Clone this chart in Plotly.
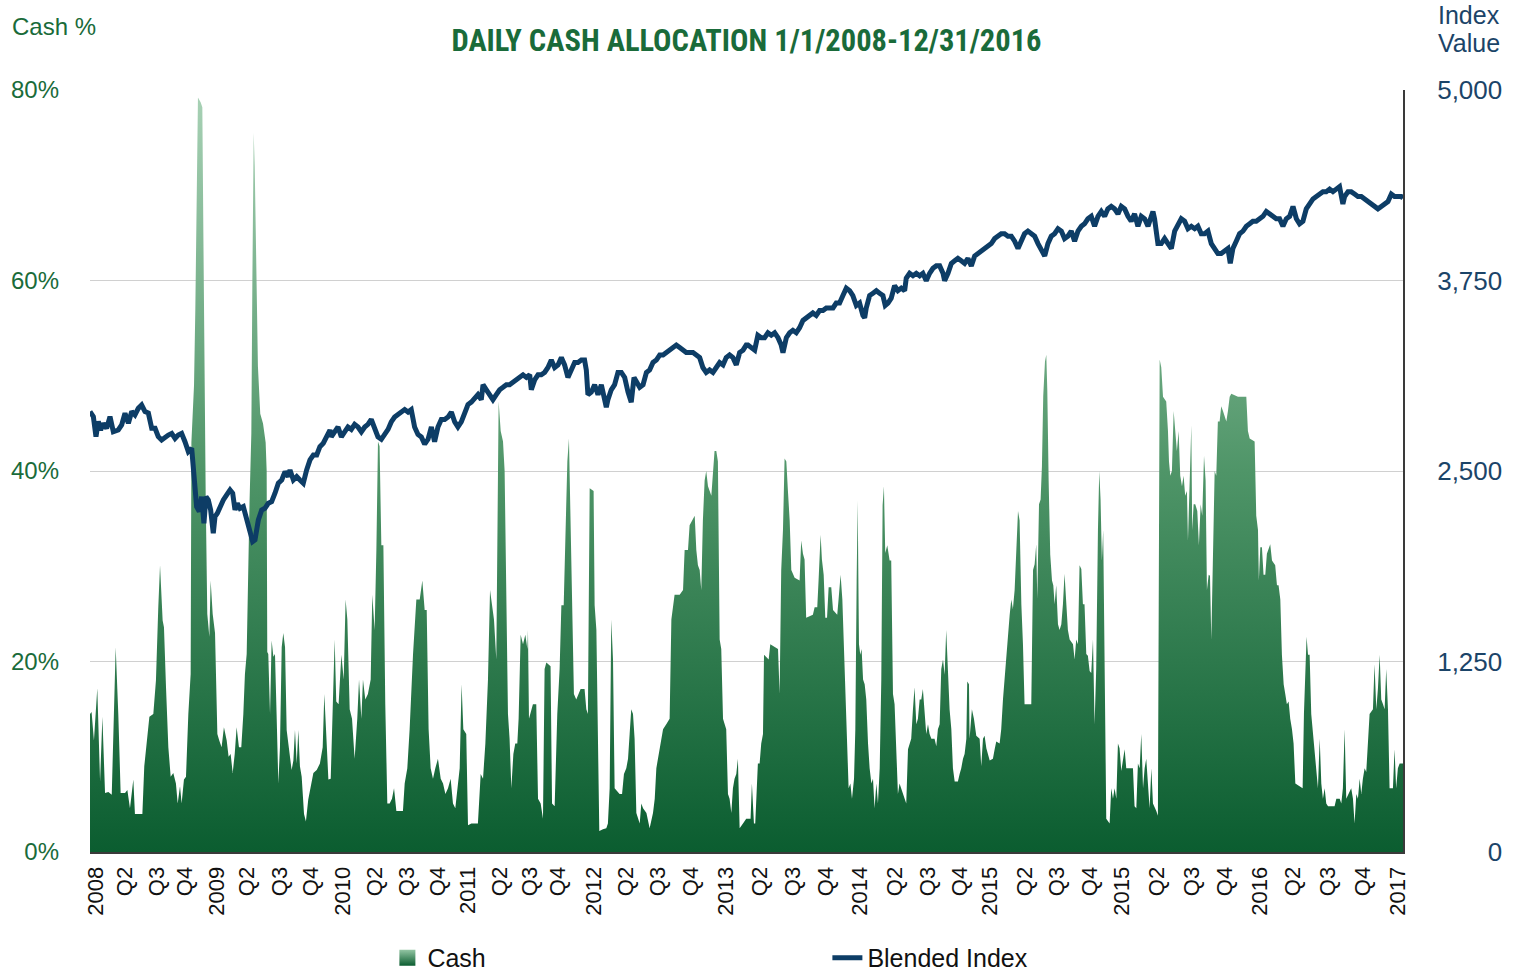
import plotly.graph_objects as go

# ---- Cash allocation (% of portfolio), x = decimal year ----
cash_t = [2008.000, 2008.011, 2008.027, 2008.050, 2008.069, 2008.085, 2008.103, 2008.126, 2008.149, 2008.164,
          2008.176, 2008.194, 2008.210, 2008.240, 2008.256, 2008.274, 2008.297, 2008.308, 2008.343, 2008.359,
          2008.372, 2008.388, 2008.407, 2008.434, 2008.452, 2008.468, 2008.480, 2008.498, 2008.507, 2008.521,
          2008.537, 2008.553, 2008.571, 2008.589, 2008.601, 2008.617, 2008.628, 2008.644, 2008.658, 2008.674,
          2008.690, 2008.695, 2008.713, 2008.722, 2008.731, 2008.740, 2008.759, 2008.770, 2008.777, 2008.786,
          2008.793, 2008.804, 2008.818, 2008.827, 2008.841, 2008.857, 2008.873, 2008.886, 2008.902, 2008.918,
          2008.937, 2008.950, 2008.964, 2008.978, 2008.992, 2009.005, 2009.021, 2009.037, 2009.051, 2009.062,
          2009.074, 2009.094, 2009.106, 2009.113, 2009.122, 2009.129, 2009.140, 2009.151, 2009.167, 2009.186,
          2009.204, 2009.211, 2009.215, 2009.222, 2009.234, 2009.245, 2009.257, 2009.268, 2009.279, 2009.291,
          2009.302, 2009.314, 2009.325, 2009.337, 2009.348, 2009.366, 2009.382, 2009.394, 2009.405, 2009.417,
          2009.428, 2009.439, 2009.451, 2009.467, 2009.480, 2009.496, 2009.519, 2009.531, 2009.554, 2009.576,
          2009.595, 2009.606, 2009.618, 2009.634, 2009.650, 2009.666, 2009.677, 2009.688, 2009.704, 2009.723,
          2009.739, 2009.752, 2009.764, 2009.780, 2009.796, 2009.814, 2009.832, 2009.844, 2009.860, 2009.871,
          2009.887, 2009.905, 2009.924, 2009.935, 2009.951, 2009.963, 2009.974, 2009.985, 2009.997, 2010.011,
          2010.024, 2010.038, 2010.054, 2010.070, 2010.084, 2010.100, 2010.123, 2010.145, 2010.157, 2010.175,
          2010.191, 2010.214, 2010.237, 2010.260, 2010.278, 2010.294, 2010.308, 2010.321, 2010.335, 2010.351,
          2010.367, 2010.385, 2010.404, 2010.420, 2010.436, 2010.454, 2010.472, 2010.488, 2010.504, 2010.518,
          2010.534, 2010.547, 2010.559, 2010.579, 2010.591, 2010.614, 2010.637, 2010.659, 2010.678, 2010.694,
          2010.710, 2010.728, 2010.742, 2010.755, 2010.769, 2010.785, 2010.801, 2010.815, 2010.831, 2010.842,
          2010.854, 2010.865, 2010.876, 2010.888, 2010.902, 2010.915, 2010.929, 2010.938, 2010.952, 2010.968,
          2010.984, 2010.998, 2011.002, 2011.009, 2011.036, 2011.059, 2011.071, 2011.089, 2011.105, 2011.116,
          2011.128, 2011.157, 2011.167, 2011.185, 2011.203, 2011.219, 2011.231, 2011.247, 2011.260, 2011.272,
          2011.283, 2011.292, 2011.304, 2011.317, 2011.333, 2011.363, 2011.390, 2011.402, 2011.413, 2011.425,
          2011.452, 2011.459, 2011.471, 2011.482, 2011.491, 2011.516, 2011.539, 2011.550, 2011.562, 2011.573,
          2011.585, 2011.596, 2011.630, 2011.647, 2011.660, 2011.676, 2011.688, 2011.699, 2011.710, 2011.722,
          2011.733, 2011.745, 2011.768, 2011.779, 2011.791, 2011.814, 2011.836, 2011.859, 2011.871, 2011.882,
          2011.905, 2011.916, 2011.928, 2011.950, 2011.973, 2011.985, 2012.007, 2012.042, 2012.065, 2012.076,
          2012.099, 2012.110, 2012.145, 2012.156, 2012.167, 2012.179, 2012.190, 2012.201, 2012.213, 2012.224,
          2012.236, 2012.259, 2012.270, 2012.281, 2012.293, 2012.304, 2012.316, 2012.327, 2012.339, 2012.361,
          2012.373, 2012.384, 2012.396, 2012.407, 2012.418, 2012.430, 2012.441, 2012.453, 2012.476, 2012.498,
          2012.510, 2012.528, 2012.537, 2012.551, 2012.560, 2012.567, 2012.578, 2012.590, 2012.601, 2012.613,
          2012.620, 2012.652, 2012.663, 2012.716, 2012.727, 2012.738, 2012.750, 2012.761, 2012.773, 2012.784,
          2012.796, 2012.807, 2012.830, 2012.864, 2012.875, 2012.887, 2012.898, 2012.909, 2012.955, 2012.967,
          2012.985, 2012.994, 2013.008, 2013.017, 2013.029, 2013.040, 2013.052, 2013.063, 2013.081, 2013.093,
          2013.122, 2013.131, 2013.145, 2013.157, 2013.168, 2013.177, 2013.189, 2013.200, 2013.212, 2013.223,
          2013.237, 2013.246, 2013.255, 2013.262, 2013.271, 2013.280, 2013.289, 2013.299, 2013.310, 2013.321,
          2013.333, 2013.344, 2013.356, 2013.367, 2013.378, 2013.390, 2013.401, 2013.413, 2013.424, 2013.433,
          2013.442, 2013.451, 2013.465, 2013.481, 2013.492, 2013.504, 2013.515, 2013.527, 2013.538, 2013.549,
          2013.561, 2013.572, 2013.584, 2013.595, 2013.607, 2013.618, 2013.629, 2013.641, 2013.652, 2013.664,
          2013.675, 2013.687, 2013.698, 2013.709, 2013.721, 2013.732, 2013.744, 2013.755, 2013.767, 2013.789,
          2013.801, 2013.812, 2013.824, 2013.835, 2013.847, 2013.858, 2013.869, 2013.881, 2013.892, 2013.904,
          2013.915, 2013.927, 2013.949, 2013.961, 2013.972, 2013.984, 2013.995, 2014.007, 2014.013, 2014.025,
          2014.029, 2014.045, 2014.059, 2014.075, 2014.098, 2014.109, 2014.121, 2014.132, 2014.144, 2014.167,
          2014.189, 2014.201, 2014.212, 2014.235, 2014.246, 2014.258, 2014.269, 2014.281, 2014.292, 2014.304,
          2014.315, 2014.326, 2014.338, 2014.349, 2014.361, 2014.372, 2014.384, 2014.395, 2014.406, 2014.452,
          2014.464, 2014.475, 2014.486, 2014.493, 2014.505, 2014.516, 2014.525, 2014.534, 2014.546, 2014.555,
          2014.562, 2014.571, 2014.582, 2014.594, 2014.603, 2014.612, 2014.623, 2014.635, 2014.646, 2014.658,
          2014.669, 2014.680, 2014.692, 2014.703, 2014.715, 2014.738, 2014.749, 2014.760, 2014.772, 2014.783,
          2014.795, 2014.806, 2014.817, 2014.829, 2014.840, 2014.852, 2014.863, 2014.875, 2014.886, 2014.897,
          2014.909, 2014.918, 2014.927, 2014.936, 2014.945, 2014.955, 2014.966, 2014.989, 2015.000, 2015.012,
          2015.023, 2015.035, 2015.046, 2015.057, 2015.069, 2015.092, 2015.103, 2015.149, 2015.160, 2015.172,
          2015.183, 2015.195, 2015.206, 2015.218, 2015.229, 2015.240, 2015.252, 2015.263, 2015.275, 2015.286,
          2015.309, 2015.320, 2015.332, 2015.343, 2015.355, 2015.377, 2015.389, 2015.396, 2015.405, 2015.416,
          2015.428, 2015.439, 2015.450, 2015.462, 2015.473, 2015.485, 2015.496, 2015.507, 2015.519, 2015.526,
          2015.537, 2015.549, 2015.555, 2015.565, 2015.576, 2015.590, 2015.601, 2015.613, 2015.624, 2015.636,
          2015.647, 2015.656, 2015.668, 2015.677, 2015.686, 2015.697, 2015.709, 2015.720, 2015.731, 2015.743,
          2015.754, 2015.766, 2015.777, 2015.789, 2015.800, 2015.812, 2015.823, 2015.869, 2015.926, 2015.937,
          2015.949, 2015.983, 2015.994, 2016.006, 2016.012, 2016.022, 2016.033, 2016.044, 2016.056, 2016.067,
          2016.090, 2016.102, 2016.124, 2016.136, 2016.147, 2016.159, 2016.170, 2016.182, 2016.193, 2016.204,
          2016.216, 2016.227, 2016.239, 2016.250, 2016.262, 2016.312, 2016.321, 2016.330, 2016.339, 2016.349,
          2016.360, 2016.371, 2016.383, 2016.394, 2016.406, 2016.417, 2016.429, 2016.440, 2016.451, 2016.463,
          2016.474, 2016.486, 2016.531, 2016.543, 2016.566, 2016.577, 2016.588, 2016.600, 2016.611, 2016.645,
          2016.657, 2016.668, 2016.680, 2016.691, 2016.703, 2016.714, 2016.725, 2016.737, 2016.748, 2016.760,
          2016.771, 2016.794, 2016.805, 2016.817, 2016.828, 2016.840, 2016.851, 2016.863, 2016.874, 2016.885,
          2016.897, 2016.908, 2016.931, 2016.942, 2016.953, 2016.965, 2016.977, 2017.000]
cash_pct = [14.5, 14.7, 11.7, 17.2, 7.4, 14.2, 6.2, 6.3, 6.0, 14.5,
            21.5, 14.5, 6.2, 6.2, 6.5, 4.6, 7.6, 4.0, 4.0, 4.0,
            9.0, 11.4, 14.2, 14.5, 18.0, 25.7, 30.1, 24.3, 23.6, 17.3,
            11.0, 7.9, 8.3, 7.2, 5.1, 6.9, 5.1, 7.6, 7.9, 14.5,
            18.7, 43.0, 49.0, 57.0, 66.0, 79.2, 78.7, 78.2, 65.0, 46.8,
            37.4, 25.0, 22.6, 28.5, 25.0, 23.0, 12.4, 11.7, 11.0, 13.1,
            11.7, 10.0, 10.3, 8.3, 10.3, 13.1, 11.0, 11.0, 14.5, 18.7,
            20.8, 37.0, 44.0, 60.0, 75.5, 72.0, 60.0, 51.0, 46.0, 45.0,
            43.0, 40.0, 21.0, 20.8, 14.5, 22.2, 20.5, 20.8, 14.5, 7.2,
            11.0, 21.5, 23.0, 21.5, 12.8, 10.3, 8.6, 9.6, 12.8, 9.3,
            12.8, 9.0, 7.9, 4.0, 3.2, 5.5, 7.6, 8.3, 8.6, 9.3,
            11.0, 16.6, 12.8, 7.6, 7.7, 16.6, 22.3, 15.8, 15.5, 20.7,
            18.1, 26.5, 24.4, 15.0, 14.0, 9.8, 14.0, 18.1, 14.0, 18.1,
            16.0, 16.6, 18.1, 27.0, 23.3, 31.7, 43.1, 42.6, 32.2, 32.2,
            15.5, 5.1, 5.1, 5.6, 6.7, 4.3, 4.3, 4.3, 7.2, 8.8,
            12.9, 20.7, 26.5, 26.5, 28.5, 25.4, 25.4, 12.9, 8.8, 7.7,
            8.8, 9.8, 7.7, 7.2, 6.1, 6.7, 7.7, 5.1, 4.6, 6.7,
            8.8, 17.6, 12.9, 12.4, 2.8, 3.0, 3.0, 3.0, 8.2, 7.7,
            11.4, 18.1, 27.5, 25.9, 24.4, 20.2, 47.3, 44.2, 43.1, 40.0,
            28.5, 14.5, 11.9, 6.7, 10.3, 11.4, 11.4, 14.0, 22.8, 21.8,
            22.8, 21.3, 23.3, 14.0, 15.5, 15.5, 5.6, 5.1, 3.5, 19.2,
            19.9, 19.5, 5.1, 4.8, 14.5, 19.2, 25.9, 25.9, 33.8, 41.0,
            43.4, 35.3, 27.5, 16.6, 16.0, 17.1, 17.1, 15.0, 14.5, 38.2,
            37.9, 25.9, 23.3, 10.3, 2.2, 2.4, 2.5, 3.0, 6.7, 24.4,
            20.2, 6.7, 6.1, 6.1, 8.2, 8.8, 9.8, 12.4, 15.0, 14.5,
            11.9, 4.1, 3.0, 5.1, 4.6, 4.1, 2.5, 4.1, 5.6, 8.8,
            10.8, 11.9, 12.9, 13.4, 14.0, 24.4, 27.0, 27.0, 27.5, 31.7,
            31.7, 34.3, 35.3, 31.7, 30.1, 29.6, 27.5, 34.8, 39.0, 40.0,
            38.4, 37.4, 40.0, 42.1, 42.1, 41.0, 22.3, 21.3, 14.0, 12.9,
            6.1, 5.6, 4.1, 6.7, 7.7, 8.2, 9.8, 2.5, 3.0, 3.5,
            3.5, 3.5, 7.2, 3.0, 3.0, 6.1, 9.3, 9.3, 11.4, 12.4,
            20.7, 20.2, 21.8, 21.3, 16.6, 29.6, 33.8, 41.3, 41.0, 37.9,
            34.8, 29.6, 28.8, 28.5, 32.7, 31.3, 30.7, 24.6, 24.9, 25.7,
            25.7, 28.5, 33.3, 30.7, 29.1, 24.6, 24.6, 27.8, 27.8, 25.4,
            24.9, 26.5, 29.1, 26.5, 21.8, 16.6, 11.9, 6.7, 7.2, 5.6,
            7.7, 12.9, 28.5, 36.9, 21.8, 20.7, 21.3, 18.1, 17.6, 16.0,
            11.4, 8.8, 7.2, 7.7, 4.6, 7.2, 5.1, 8.8, 18.1, 36.4,
            38.4, 31.4, 32.2, 30.6, 30.6, 16.6, 15.5, 11.4, 6.1, 7.2,
            6.7, 6.1, 5.6, 5.1, 10.8, 11.4, 11.9, 15.0, 17.3, 13.4,
            14.0, 16.0, 16.0, 17.1, 15.0, 12.4, 13.4, 12.4, 11.9, 11.9,
            11.1, 12.9, 13.4, 19.2, 20.2, 18.6, 23.3, 19.2, 15.0, 12.9,
            8.8, 7.4, 7.4, 8.2, 8.8, 9.8, 10.3, 11.9, 17.9, 17.6,
            11.9, 15.0, 14.0, 12.2, 11.9, 9.0, 11.9, 12.2, 10.9, 9.6,
            9.8, 10.8, 11.6, 11.4, 12.9, 16.0, 18.1, 20.7, 23.3, 24.9,
            26.5, 25.5, 27.5, 31.7, 35.8, 34.8, 26.0, 21.8, 15.5, 15.5,
            29.6, 30.2, 32.3, 26.6, 36.5, 37.0, 40.5, 47.9, 51.5, 52.2,
            48.4, 39.0, 31.2, 28.5, 28.0, 26.0, 28.0, 23.9, 23.3, 23.9,
            26.0, 29.2, 26.0, 23.3, 22.3, 21.8, 20.2, 22.3, 21.8, 30.1,
            29.7, 26.0, 26.0, 20.8, 20.6, 19.0, 18.8, 22.3, 13.4, 19.2,
            33.8, 40.0, 37.0, 30.6, 33.8, 17.1, 3.5, 3.0, 6.7, 5.6,
            6.7, 5.6, 11.4, 10.9, 8.5, 10.8, 8.8, 8.8, 4.8, 4.6,
            9.3, 8.8, 12.4, 6.7, 8.8, 9.8, 6.7, 4.6, 8.8, 5.1,
            4.3, 3.8, 51.7, 50.9, 47.8, 47.3, 44.2, 41.0, 39.5, 40.0,
            46.3, 44.2, 42.1, 44.2, 39.5, 38.4, 39.5, 37.4, 37.9, 32.7,
            37.5, 44.8, 33.8, 36.5, 36.5, 35.8, 32.2, 36.5, 35.3, 41.6,
            39.0, 27.5, 29.1, 29.0, 22.3, 31.1, 40.0, 39.5, 45.2, 45.2,
            46.8, 46.3, 45.7, 45.2, 46.3, 47.8, 48.1, 47.8, 47.8, 44.2,
            43.4, 43.1, 35.3, 33.8, 28.5, 32.0, 32.0, 29.1, 29.1, 31.3,
            32.3, 30.6, 30.1, 28.0, 28.0, 26.5, 20.7, 17.6, 16.6, 15.5,
            15.8, 14.0, 12.9, 11.4, 7.2, 6.7, 14.5, 19.2, 22.6, 20.7,
            20.7, 14.5, 12.4, 10.8, 7.8, 6.7, 11.9, 7.2, 5.6, 6.7,
            5.1, 4.8, 4.8, 5.6, 5.6, 5.1, 6.7, 12.9, 5.6, 6.7,
            5.6, 3.0, 6.1, 5.6, 7.7, 6.1, 7.7, 8.8, 8.4, 11.4,
            14.5, 15.0, 19.7, 15.0, 17.1, 20.7, 16.0, 15.5, 15.0, 19.2,
            15.0, 6.7, 6.7, 10.8, 6.7, 8.8, 9.3, 9.3]

# ---- Blended index value, x = decimal year ----
idx_t = [2008.000, 2008.023, 2008.041, 2008.057, 2008.073, 2008.091, 2008.114, 2008.137, 2008.160, 2008.194,
         2008.217, 2008.240, 2008.263, 2008.286, 2008.308, 2008.331, 2008.354, 2008.377, 2008.400, 2008.423,
         2008.446, 2008.468, 2008.491, 2008.514, 2008.537, 2008.560, 2008.583, 2008.605, 2008.628, 2008.651,
         2008.674, 2008.697, 2008.715, 2008.731, 2008.749, 2008.765, 2008.781, 2008.795, 2008.811, 2008.827,
         2008.845, 2008.857, 2008.873, 2008.891, 2008.914, 2008.937, 2008.960, 2008.978, 2008.994, 2009.010,
         2009.028, 2009.051, 2009.074, 2009.097, 2009.115, 2009.131, 2009.154, 2009.177, 2009.199, 2009.222,
         2009.245, 2009.268, 2009.291, 2009.314, 2009.337, 2009.359, 2009.371, 2009.394, 2009.417, 2009.439,
         2009.462, 2009.485, 2009.508, 2009.531, 2009.554, 2009.576, 2009.599, 2009.622, 2009.645, 2009.654,
         2009.677, 2009.700, 2009.723, 2009.745, 2009.768, 2009.791, 2009.814, 2009.837, 2009.860, 2009.883,
         2009.905, 2009.928, 2009.951, 2009.974, 2009.997, 2010.020, 2010.043, 2010.065, 2010.088, 2010.111,
         2010.134, 2010.157, 2010.180, 2010.202, 2010.225, 2010.248, 2010.271, 2010.294, 2010.317, 2010.340,
         2010.362, 2010.385, 2010.408, 2010.431, 2010.454, 2010.477, 2010.500, 2010.522, 2010.545, 2010.568,
         2010.591, 2010.614, 2010.637, 2010.659, 2010.682, 2010.694, 2010.717, 2010.739, 2010.762, 2010.785,
         2010.808, 2010.831, 2010.854, 2010.876, 2010.899, 2010.922, 2010.945, 2010.968, 2010.991, 2011.014,
         2011.025, 2011.048, 2011.071, 2011.093, 2011.116, 2011.139, 2011.162, 2011.185, 2011.208, 2011.231,
         2011.253, 2011.276, 2011.299, 2011.322, 2011.345, 2011.368, 2011.390, 2011.402, 2011.413, 2011.436,
         2011.459, 2011.482, 2011.505, 2011.528, 2011.539, 2011.550, 2011.573, 2011.596, 2011.619, 2011.642,
         2011.665, 2011.688, 2011.710, 2011.729, 2011.745, 2011.768, 2011.791, 2011.814, 2011.836, 2011.859,
         2011.882, 2011.905, 2011.928, 2011.950, 2011.973, 2011.996, 2012.019, 2012.042, 2012.065, 2012.087,
         2012.110, 2012.133, 2012.156, 2012.179, 2012.201, 2012.224, 2012.247, 2012.270, 2012.293, 2012.316,
         2012.339, 2012.361, 2012.384, 2012.407, 2012.430, 2012.453, 2012.476, 2012.498, 2012.510, 2012.533,
         2012.556, 2012.578, 2012.601, 2012.624, 2012.647, 2012.670, 2012.693, 2012.716, 2012.738, 2012.750,
         2012.773, 2012.796, 2012.818, 2012.841, 2012.864, 2012.887, 2012.909, 2012.932, 2012.955, 2012.978,
         2013.001, 2013.024, 2013.047, 2013.070, 2013.093, 2013.115, 2013.138, 2013.161, 2013.184, 2013.207,
         2013.229, 2013.253, 2013.275, 2013.298, 2013.310, 2013.321, 2013.344, 2013.367, 2013.390, 2013.412,
         2013.435, 2013.451, 2013.470, 2013.492, 2013.515, 2013.538, 2013.561, 2013.584, 2013.595, 2013.618,
         2013.641, 2013.664, 2013.687, 2013.709, 2013.732, 2013.755, 2013.778, 2013.801, 2013.824, 2013.847,
         2013.858, 2013.881, 2013.904, 2013.927, 2013.949, 2013.972, 2013.995, 2014.018, 2014.041, 2014.064,
         2014.086, 2014.109, 2014.132, 2014.155, 2014.178, 2014.201, 2014.224, 2014.246, 2014.269, 2014.292,
         2014.315, 2014.338, 2014.361, 2014.384, 2014.406, 2014.429, 2014.452, 2014.475, 2014.498, 2014.521,
         2014.544, 2014.566, 2014.589, 2014.612, 2014.635, 2014.658, 2014.680, 2014.703, 2014.726, 2014.749,
         2014.772, 2014.795, 2014.817, 2014.840, 2014.863, 2014.886, 2014.909, 2014.932, 2014.955, 2014.977,
         2015.000, 2015.023, 2015.046, 2015.069, 2015.092, 2015.115, 2015.137, 2015.160, 2015.183, 2015.206,
         2015.229, 2015.252, 2015.275, 2015.286, 2015.297, 2015.320, 2015.343, 2015.366, 2015.389, 2015.412,
         2015.435, 2015.457, 2015.480, 2015.503, 2015.526, 2015.549, 2015.572, 2015.594, 2015.617, 2015.640,
         2015.663, 2015.686, 2015.709, 2015.731, 2015.754, 2015.777, 2015.800, 2015.816, 2015.834, 2015.857,
         2015.880, 2015.903, 2015.926, 2015.949, 2015.971, 2015.994, 2016.017, 2016.040, 2016.063, 2016.086,
         2016.109, 2016.131, 2016.154, 2016.177, 2016.200, 2016.223, 2016.246, 2016.269, 2016.291, 2016.314,
         2016.337, 2016.360, 2016.383, 2016.406, 2016.428, 2016.451, 2016.474, 2016.497, 2016.520, 2016.543,
         2016.565, 2016.588, 2016.600, 2016.623, 2016.645, 2016.668, 2016.691, 2016.714, 2016.737, 2016.760,
         2016.782, 2016.805, 2016.828, 2016.851, 2016.874, 2016.897, 2016.920, 2016.942, 2016.965, 2016.988,
         2017.000]
idx_val = [2890, 2857, 2725, 2825, 2769, 2813, 2780, 2857, 2758, 2769,
           2802, 2879, 2813, 2890, 2868, 2911, 2933, 2890, 2880, 2780,
           2780, 2725, 2703, 2725, 2736, 2747, 2714, 2736, 2747, 2692,
           2627, 2649, 2485, 2266, 2234, 2332, 2157, 2332, 2310, 2244,
           2091, 2201, 2223, 2266, 2310, 2343, 2376, 2354, 2244, 2288,
           2255, 2266, 2179, 2091, 2037, 2048, 2179, 2244, 2255, 2288,
           2299, 2354, 2420, 2441, 2496, 2463, 2507, 2441, 2463, 2441,
           2420, 2507, 2573, 2605, 2605, 2660, 2682, 2725, 2769, 2724,
           2757, 2789, 2724, 2757, 2789, 2773, 2806, 2789, 2757, 2789,
           2806, 2838, 2789, 2724, 2708, 2740, 2773, 2822, 2854, 2871,
           2887, 2903, 2887, 2903, 2789, 2740, 2724, 2676, 2708, 2789,
           2692, 2789, 2838, 2838, 2854, 2887, 2822, 2789, 2822, 2887,
           2936, 2952, 2984, 3001, 2968, 3066, 3033, 3001, 2968, 3001,
           3033, 3049, 3066, 3066, 3082, 3098, 3114, 3131, 3114, 3131,
           3033, 3098, 3131, 3131, 3147, 3179, 3228, 3179, 3196, 3244,
           3196, 3114, 3163, 3212, 3212, 3228, 3228, 3163, 3001, 3017,
           3066, 3001, 3066, 2984, 2919, 2968, 3033, 3066, 3147, 3147,
           3114, 3017, 2952, 3114, 3082, 3049, 3066, 3147, 3163, 3212,
           3228, 3261, 3261, 3277, 3293, 3310, 3326, 3310, 3293, 3277,
           3277, 3277, 3261, 3244, 3179, 3147, 3163, 3147, 3179, 3212,
           3196, 3244, 3261, 3244, 3196, 3277, 3293, 3326, 3326, 3310,
           3293, 3391, 3375, 3375, 3407, 3391, 3407, 3375, 3326, 3277,
           3375, 3407, 3423, 3407, 3440, 3488, 3505, 3521, 3537, 3521,
           3553, 3553, 3570, 3570, 3570, 3602, 3602, 3651, 3700, 3683,
           3651, 3586, 3602, 3521, 3505, 3570, 3651, 3667, 3683, 3667,
           3651, 3586, 3602, 3634, 3716, 3683, 3700, 3683, 3765, 3797,
           3781, 3797, 3781, 3797, 3748, 3797, 3830, 3846, 3846, 3797,
           3748, 3797, 3862, 3879, 3895, 3879, 3862, 3895, 3846, 3911,
           3927, 3943, 3960, 3976, 3992, 4025, 4041, 4057, 4057, 4041,
           4041, 4008, 3960, 4008, 4057, 4074, 4057, 4041, 3992, 3943,
           3911, 3992, 4041, 4057, 4090, 4074, 4025, 4041, 4074, 4008,
           4074, 4106, 4122, 4155, 4171, 4106, 4171, 4203, 4171, 4220,
           4236, 4220, 4187, 4236, 4220, 4171, 4139, 4187, 4106, 4171,
           4155, 4106, 4187, 4203, 4155, 3992, 3992, 4025, 3992, 3960,
           4074, 4122, 4155, 4139, 4090, 4106, 4090, 4106, 4057, 4057,
           4074, 3992, 3960, 3927, 3927, 3943, 3960, 3862, 3960, 4008,
           4057, 4074, 4106, 4122, 4139, 4139, 4155, 4171, 4203, 4187,
           4171, 4155, 4155, 4106, 4155, 4171, 4236, 4155, 4122, 4139,
           4220, 4252, 4285, 4301, 4317, 4333, 4333, 4350, 4333, 4350,
           4366, 4252, 4301, 4333, 4333, 4317, 4301, 4301, 4285, 4268,
           4252, 4236, 4220, 4236, 4252, 4268, 4317, 4301, 4301, 4301,
           4290]

# ---- x-axis category labels (as printed on the original chart) ----
tick_labels = ["2008", "Q2", "Q3", "Q4", "2009", "Q2", "Q3", "Q4", "2010", "Q2", "Q3", "Q4",
               "2011", "Q2", "Q3", "Q4", "2012", "Q2", "Q3", "Q4", "2013", "Q2", "Q3", "Q4",
               "2014", "Q2", "Q3", "Q4", "2015", "Q2", "Q3", "Q4", "2015", "Q2", "Q3", "Q4",
               "2016", "Q2", "Q3", "Q4", "2017"]
tick_positions = [2008.041, 2008.240, 2008.457, 2008.651, 2008.868, 2009.074, 2009.302, 2009.513,
                  2009.736, 2009.953, 2010.171, 2010.387, 2010.593, 2010.810, 2011.016, 2011.208,
                  2011.454, 2011.674, 2011.893, 2012.119, 2012.359, 2012.592, 2012.818, 2013.045,
                  2013.278, 2013.517, 2013.744, 2013.963, 2014.169, 2014.409, 2014.626, 2014.854,
                  2015.071, 2015.311, 2015.551, 2015.779, 2016.019, 2016.247, 2016.487, 2016.727,
                  2016.967]

left_ticks = [0, 20, 40, 60, 80]
left_labels = ["0%", "20%", "40%", "60%", "80%"]
right_ticks = [0, 1250, 2500, 3750, 5000]
right_labels = ["\u2007\u2007\u2007\u20080", "1,250", "2,500", "3,750", "5,000"]

GREEN = "#1a6b3a"
NAVY = "#1b4468"
FONT = "Liberation Sans, Arial, Helvetica, sans-serif"
TITLE = "DAILY CASH ALLOCATION 1/1/2008-12/31/2016"

fig = go.Figure()
fig.add_trace(go.Scatter(
    x=cash_t, y=cash_pct, name="Cash", mode="lines",
    line=dict(width=0, color="#2e7d4f"),
    fill="tozeroy",
    fillgradient=dict(type="vertical", start=0, stop=80,
                      colorscale=[[0, "#0b5d30"], [0.5, "#4f9568"], [1, "#a9d2b6"]]),
    yaxis="y", hoverinfo="skip", showlegend=False,
))
# legend swatch for the cash area (square with vertical gradient)
fig.add_trace(go.Scatter(
    x=[None], y=[None], name="Cash", mode="markers",
    marker=dict(symbol="square", size=22, color="#94c6a4",
                gradient=dict(type="vertical", color="#0b5d30"), line=dict(width=0)),
    yaxis="y",
))
fig.add_trace(go.Scatter(
    x=idx_t, y=idx_val, name="Blended Index", mode="lines",
    line=dict(width=5, color="#0d3d66"),
    yaxis="y2", hoverinfo="skip",
))

fig.update_layout(
    width=1521, height=973,
    margin=dict(l=90, r=118, t=90, b=121, autoexpand=False),
    paper_bgcolor="white", plot_bgcolor="white",
    font=dict(family=FONT, size=22, color="#111111"),
    title=dict(text=f"<b>{TITLE}</b>",
               x=0.5, xref="paper", xanchor="center",
               y=1 - 40 / 973, yanchor="middle",
               font=dict(family="Roboto Condensed, Liberation Sans Narrow, Arial Narrow, sans-serif",
                         size=30.5, color=GREEN)),
    xaxis=dict(range=[2008.0, 2017.0], tickmode="array", tickvals=tick_positions, ticktext=tick_labels,
               tickangle=-90, tickfont=dict(size=22, color="#111111"), automargin=False,
               showgrid=False, zeroline=False, showline=True, linecolor="#3a3a3a", linewidth=2,
               ticks="", ticklabelstandoff=4),
    yaxis=dict(range=[0, 80], tickmode="array", tickvals=left_ticks, ticktext=left_labels, automargin=False,
               tickfont=dict(size=24, color=GREEN), showgrid=True, gridcolor="#d0d0d0", gridwidth=1,
               zeroline=False, showline=False, ticks="", ticklabelstandoff=30),
    yaxis2=dict(range=[0, 5000], overlaying="y", side="right", tickmode="array", automargin=False,
                tickvals=right_ticks, ticktext=right_labels,
                tickfont=dict(size=26, color=NAVY), showgrid=False, zeroline=False,
                showline=True, linecolor="#3a3a3a", linewidth=2, ticks="", ticklabelstandoff=27),
    legend=dict(orientation="h", x=0.2265, xanchor="left", y=-0.139, yanchor="middle",
                font=dict(size=25, color="#111111"), entrywidth=395, entrywidthmode="pixels",
                bgcolor="rgba(0,0,0,0)"),
    annotations=[
        dict(text="Cash %", xref="paper", yref="paper", x=-0.0609, y=1.0827,
             xanchor="left", yanchor="middle", showarrow=False,
             font=dict(size=24, color=GREEN)),
        dict(text="Index", xref="paper", yref="paper", x=1.0251, y=(852 - 15) / 762,
             xanchor="left", yanchor="middle", align="left", showarrow=False,
             font=dict(size=25, color=NAVY)),
        dict(text="Value", xref="paper", yref="paper", x=1.0251, y=(852 - 43) / 762,
             xanchor="left", yanchor="middle", align="left", showarrow=False,
             font=dict(size=25, color=NAVY)),
    ],
)

fig.write_html("out.html", config={"displayModeBar": False},
               post_script="document.body.style.margin='0';")
